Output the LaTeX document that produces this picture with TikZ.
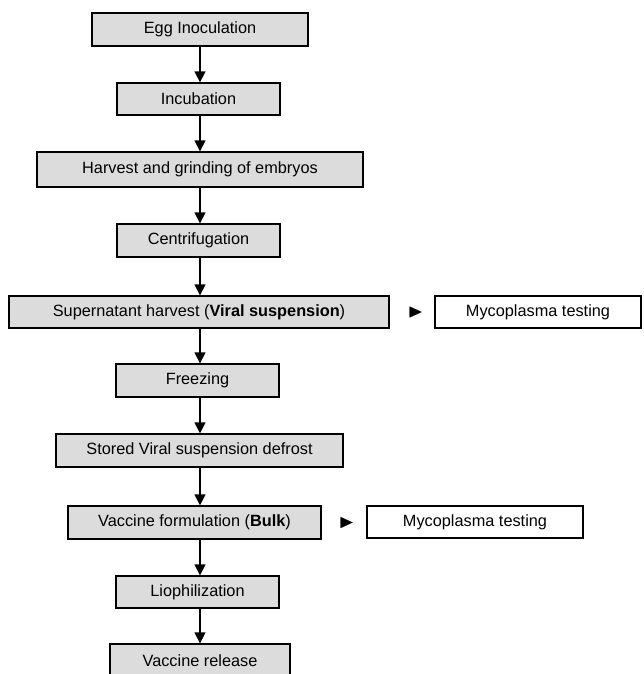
\documentclass[tikz,border=0pt]{standalone}
\usepackage{fontspec}
\setmainfont{Liberation Sans}
\usetikzlibrary{arrows.meta}
\definecolor{boxgray}{RGB}{220,220,220}
\begin{document}
\begin{tikzpicture}[x=1pt,y=-1pt,
  stepbox/.style={draw=black, line width=1.3pt, fill=boxgray, minimum height=33pt, inner sep=0pt, font=\fontsize{16.3}{18}\selectfont},
  testbox/.style={draw=black, line width=1.3pt, fill=white, minimum height=32pt, inner sep=0pt, font=\fontsize{16.3}{18}\selectfont},
  flow/.style={line width=1.4pt, -{Triangle[length=11pt,width=11pt]}},
  sidetip/.style={line width=0.1pt, -{Triangle[length=12pt,width=11pt]}}]
\useasboundingbox (0,0) rectangle (643,674);
\fill[white] (0,0) rectangle (643,674);
\node[stepbox, minimum width=216pt] (egg) at (200,29.5) {Egg Inoculation};
\node[stepbox, minimum width=163pt, minimum height=32pt] (inc) at (198.5,99) {Incubation};
\node[stepbox, minimum width=326pt, minimum height=35pt] (harv) at (200,169.5) {Harvest and grinding of embryos};
\node[stepbox, minimum width=163pt] (cent) at (198.5,240.5) {Centrifugation};
\node[stepbox, minimum width=380pt, minimum height=32pt] (sup) at (199,312) {Supernatant harvest (\textbf{Viral suspension})};
\node[testbox, minimum width=206pt] (myc1) at (538,312) {Mycoplasma testing};
\node[stepbox, minimum width=163pt] (frz) at (197.5,380.5) {Freezing};
\node[stepbox, minimum width=287pt] (stor) at (199.5,450.5) {Stored Viral suspension defrost};
\node[stepbox, minimum width=253pt] (vac) at (194.5,522.5) {Vaccine formulation (\textbf{Bulk})};
\node[testbox, minimum width=216pt] (myc2) at (475,522) {Mycoplasma testing};
\node[stepbox, minimum width=163pt, minimum height=32pt] (lio) at (197.5,592) {Liophilization};
\node[stepbox, minimum width=180pt] (rel) at (200,660.5) {Vaccine release};
\coordinate (ax) at (200,0);
\draw[flow] (egg.south -| ax) -- (inc.north -| ax);
\draw[flow] (inc.south -| ax) -- (harv.north -| ax);
\draw[flow] (harv.south -| ax) -- (cent.north -| ax);
\draw[flow] (cent.south -| ax) -- (sup.north -| ax);
\draw[flow] (sup.south -| ax) -- (frz.north -| ax);
\draw[flow] (frz.south -| ax) -- (stor.north -| ax);
\draw[flow] (stor.south -| ax) -- (vac.north -| ax);
\draw[flow] (vac.south -| ax) -- (lio.north -| ax);
\draw[flow] (lio.south -| ax) -- (rel.north -| ax);
\coordinate (s1a) at ([xshift=20pt]sup.east);
\coordinate (s1b) at ([xshift=32pt]sup.east);
\draw[sidetip] (s1a) -- (s1b);
\coordinate (s2a) at ([xshift=19pt]vac.east);
\coordinate (s2b) at ([xshift=31pt]vac.east);
\draw[sidetip] (s2a) -- (s2b);
\end{tikzpicture}
\end{document}
